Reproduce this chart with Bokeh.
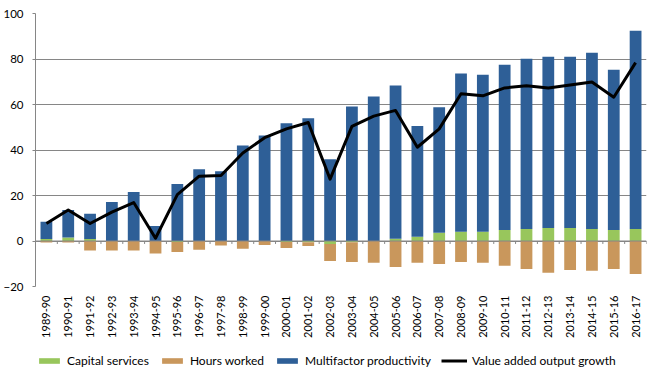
import numpy as np
from bokeh.plotting import figure
from bokeh.layouts import column
from bokeh.models import Span, FixedTicker, Legend, LegendItem, Range1d
from bokeh.embed import file_html
from bokeh.resources import INLINE

years = ["1989-90", "1990-91", "1991-92", "1992-93", "1993-94", "1994-95", "1995-96",
         "1996-97", "1997-98", "1998-99", "1999-00", "2000-01", "2001-02", "2002-03",
         "2003-04", "2004-05", "2005-06", "2006-07", "2007-08", "2008-09", "2009-10",
         "2010-11", "2011-12", "2012-13", "2013-14", "2014-15", "2015-16", "2016-17"]

capital_services = [0.9, 1.5, 0.9, 0.0, 0.0, 0.0, -0.4, 0.0, 0.0, 0.0, 0.0, -0.4, -0.5, -1.3,
                    -0.6, 0.0, 1.0, 1.9, 3.6, 4.1, 4.1, 4.8, 5.3, 5.7, 5.7, 5.3, 4.8, 5.3]
hours_worked = [-0.7, -0.7, -4.2, -4.2, -4.2, -5.5, -4.4, -3.8, -2.0, -3.4, -1.8, -2.7, -1.7, -7.5,
                -8.6, -9.6, -11.4, -9.6, -10.1, -9.2, -9.6, -10.9, -12.3, -14.0, -12.7, -13.1, -12.3, -14.5]
multifactor_productivity = [7.6, 12.1, 11.1, 17.1, 21.5, 6.6, 25.1, 31.5, 30.7, 42.0, 46.4, 51.8, 54.0, 35.9,
                            59.1, 63.5, 67.4, 48.6, 55.2, 69.5, 69.0, 72.7, 74.8, 75.3, 75.3, 77.5, 70.5, 87.1]
value_added_growth = [7.7, 13.6, 7.7, 12.7, 16.9, 1.2, 20.4, 28.5, 28.8, 38.7, 45.4, 49.3, 52.1, 27.2,
                      50.4, 54.9, 57.4, 41.2, 49.3, 64.7, 63.8, 67.3, 68.2, 67.3, 68.6, 69.9, 63.2, 78.4]

series_names = ["Capital services", "Hours worked", "Multifactor productivity", "Value added output growth"]
y_ticks = [-20, 0, 20, 40, 60, 80, 100]

GREEN = "#98C65C"
BROWN = "#C9975C"
BLUE = "#2E5F97"
GRID = "#868686"
FONT = "Lato"

n = len(years)
x = np.arange(n)
cap = np.array(capital_services)
hrs = np.array(hours_worked)
mfp = np.array(multifactor_productivity)

cap_top = np.where(cap >= 0, cap, 0.0)
cap_bot = np.where(cap >= 0, 0.0, cap)
pos_base = np.where(cap >= 0, cap, 0.0)
neg_base = np.where(cap < 0, cap, 0.0)
hrs_top = neg_base
hrs_bot = neg_base + hrs
mfp_bot = pos_base
mfp_top = pos_base + mfp

p = figure(frame_width=611, frame_height=273, output_backend="svg", toolbar_location=None,
           x_range=Range1d(-0.5, n - 0.5), y_range=Range1d(-20, 100),
           min_border_left=35, min_border_right=9, min_border_top=13, min_border_bottom=60)
p.outline_line_color = None
p.background_fill_color = "white"
p.border_fill_color = "white"

w = 0.54
p.vbar(x=x, bottom=cap_bot, top=cap_top, width=w, color=GREEN, line_color=None)
p.vbar(x=x, bottom=hrs_bot, top=hrs_top, width=w, color=BROWN, line_color=None)
p.vbar(x=x, bottom=mfp_bot, top=mfp_top, width=w, color=BLUE, line_color=None)

p.add_layout(Span(location=0, dimension="width", line_color=GRID, line_width=1))
tick_x = x + 0.5
p.segment(x0=tick_x, x1=tick_x, y0=np.zeros(n), y1=np.full(n, -1.3), line_color=GRID, line_width=1)

p.line(x=x, y=value_added_growth, line_color="black", line_width=3, line_join="round")

# y axis
p.yaxis.ticker = FixedTicker(ticks=y_ticks)
p.yaxis.axis_line_color = GRID
p.yaxis.major_tick_line_color = GRID
p.yaxis.major_tick_out = 3
p.yaxis.major_tick_in = 0
p.yaxis.minor_tick_line_color = None
p.yaxis.major_label_text_font = FONT
p.yaxis.major_label_text_font_size = "11.5px"
p.yaxis.major_label_text_color = "#000000"
p.yaxis.major_label_standoff = 9
p.ygrid.grid_line_color = GRID
p.ygrid.ticker = FixedTicker(ticks=y_ticks)
p.xgrid.grid_line_color = None

# x axis
p.xaxis.ticker = FixedTicker(ticks=list(range(n)))
p.xaxis.major_label_overrides = {i: years[i] for i in range(n)}
p.xaxis.major_label_orientation = np.pi / 2
p.xaxis.axis_line_color = None
p.xaxis.major_tick_line_color = None
p.xaxis.major_tick_out = 0
p.xaxis.major_tick_in = 0
p.xaxis.minor_tick_line_color = None
p.xaxis.major_label_text_font = FONT
p.xaxis.major_label_text_font_size = "11px"
p.xaxis.major_label_text_color = "#000000"
p.xaxis.major_label_standoff = 9

# legend strip (its renderers use the same data but sit outside the strip's visible range)
lg = figure(frame_width=611, frame_height=26, output_backend="svg", toolbar_location=None,
            x_range=Range1d(-0.5, n - 0.5), y_range=Range1d(1000, 1001),
            min_border_left=35, min_border_right=9, min_border_top=0, min_border_bottom=0,
            x_axis_location=None, y_axis_location=None)
lg.outline_line_color = None
lg.xgrid.grid_line_color = None
lg.ygrid.grid_line_color = None
l_cap = lg.vbar(x=x, bottom=cap_bot, top=cap_top, width=w, color=GREEN, line_color=None)
l_hrs = lg.vbar(x=x, bottom=hrs_bot, top=hrs_top, width=w, color=BROWN, line_color=None)
l_mfp = lg.vbar(x=x, bottom=mfp_bot, top=mfp_top, width=w, color=BLUE, line_color=None)
l_line = lg.line(x=x, y=value_added_growth, line_color="black", line_width=3)

legend = Legend(items=[
    LegendItem(label=series_names[0], renderers=[l_cap]),
    LegendItem(label=series_names[1], renderers=[l_hrs]),
    LegendItem(label=series_names[2], renderers=[l_mfp]),
    LegendItem(label=series_names[3], renderers=[l_line]),
], orientation="horizontal", location=(1, 4))
legend.label_text_font = FONT
legend.label_text_font_size = "12px"
legend.label_text_color = "#000000"
legend.glyph_width = 26
legend.glyph_height = 7
legend.label_height = 14
legend.label_standoff = 5
legend.spacing = 10
legend.padding = 0
legend.margin = 0
legend.border_line_color = None
legend.background_fill_alpha = 0
lg.add_layout(legend, "center")

layout = column(p, lg, spacing=0)
open("out.html", "w").write(file_html(layout, INLINE))
